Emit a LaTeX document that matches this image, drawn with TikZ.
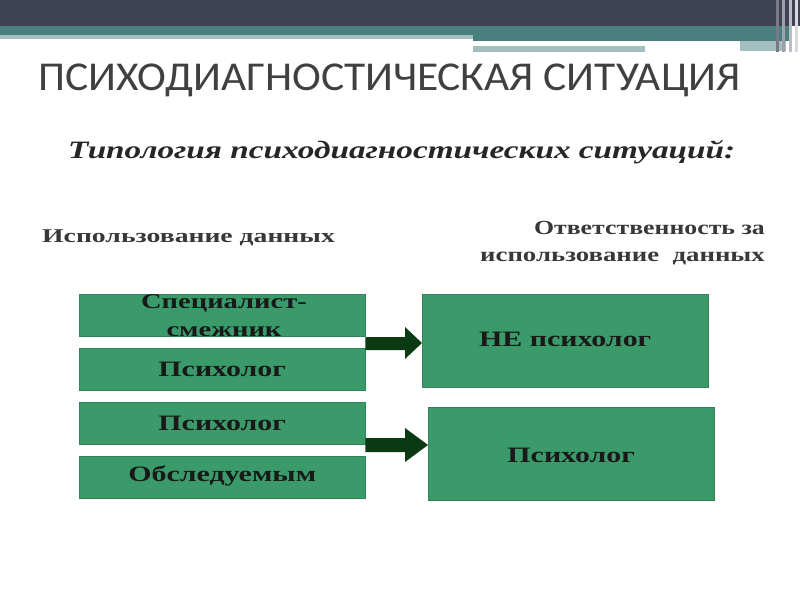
\documentclass[tikz,border=0pt]{standalone}
\usepackage{fontspec}
\setmainfont{Liberation Serif}
\newfontfamily\titlefont{Carlito}
\usetikzlibrary{arrows.meta}
\definecolor{hdark}{HTML}{3F4154}
\definecolor{hteal}{HTML}{4A7F80}
\definecolor{hlight}{HTML}{A4BDBF}
\definecolor{boxgreen}{HTML}{3A9A6A}
\definecolor{arrowgreen}{HTML}{0B3A12}
\definecolor{titlegray}{HTML}{404040}
\newcommand{\widetxt}[1]{\scalebox{1.36}[1]{#1}}
\tikzset{
  gbox/.style={fill=boxgreen, draw=boxgreen!85!black, line width=0.4pt, anchor=north west, inner sep=0pt},
  boxtext/.style={font=\fontsize{22}{24}\selectfont\bfseries, text=black!90, align=center, inner sep=0pt},
  bigarrow/.style={fill=arrowgreen, draw=none},
}
\begin{document}
\begin{tikzpicture}[x=1pt,y=-1pt]
\useasboundingbox (0,0) rectangle (800,600);
\fill[white] (0,0) rectangle (800,600);
% header
\fill[hdark] (0,0) rectangle (800,26);
\fill[hteal] (0,26) rectangle (790,35);
\fill[hlight] (0,35) rectangle (473,39);
\fill[hteal] (473,35) rectangle (790,41);
\fill[hlight] (473,46) rectangle (645,52);
\fill[hlight] (740,41) rectangle (786,51);
\fill[hdark!70] (776,0) rectangle (779,52);
\fill[hdark!50] (782,0) rectangle (785,52);
\fill[hdark!35] (789,0) rectangle (792,52);
\fill[hdark!20] (795,0) rectangle (798,52);
% title
\node[font=\titlefont\fontsize{41}{46}\selectfont, text=titlegray, anchor=west, inner sep=0pt] (title) at (38,80) {\scalebox{1.06}[1]{ПСИХОДИАГНОСТИЧЕСКАЯ СИТУАЦИЯ}};
\node[font=\fontsize{25}{28}\selectfont\bfseries\itshape, text=black!85, anchor=west, inner sep=0pt] (sub) at (68,152) {\scalebox{1.33}[1]{Типология психодиагностических ситуаций:}};
\node[font=\fontsize{19.5}{22}\selectfont\bfseries, text=black!78, anchor=west, inner sep=0pt] (use) at (42,238) {\scalebox{1.42}[1]{Использование данных}};
\node[font=\fontsize{20}{27}\selectfont\bfseries, text=black!78, align=right, anchor=east, inner sep=0pt] (resp) at (765,243) {\scalebox{1.29}[1]{Ответственность за}\\\scalebox{1.34}[1]{использование\ \ данных}};
% boxes
\node[gbox, minimum width=286pt, minimum height=42pt] (l1) at (79,294) {};
\node[gbox, minimum width=286pt, minimum height=42pt] (l2) at (79,348) {};
\node[gbox, minimum width=286pt, minimum height=42pt] (l3) at (79,402) {};
\node[gbox, minimum width=286pt, minimum height=42pt] (l4) at (79,456) {};
\node[gbox, minimum width=286pt, minimum height=93pt] (r1) at (422,294) {};
\node[gbox, minimum width=286pt, minimum height=93pt] (r2) at (428,407) {};
% texts
\node[boxtext, font=\fontsize{21}{28}\selectfont\bfseries] (t1) at (224,316) {\widetxt{Специалист-}\\\widetxt{смежник}};
\node[boxtext] (t2) at (l2.center) {\widetxt{Психолог}};
\node[boxtext] (t3) at (l3.center) {\widetxt{Психолог}};
\node[boxtext] (t4) at ([yshift=1pt]l4.center) {\widetxt{Обследуемым}};
\node[boxtext] (t5) at ([yshift=1pt]r1.center) {\widetxt{НЕ психолог}};
\node[boxtext] (t6) at ([yshift=-2pt]r2.center) {\widetxt{Психолог}};
% arrows
\fill[bigarrow] (l1.east |- 0,337) -- (405,337) -- (405,327) -- (r1.west |- 0,343) -- (405,359) -- (405,350) -- (l1.east |- 0,350) -- cycle;
\fill[bigarrow] (l3.east |- 0,438) -- (405,438) -- (405,428) -- (r2.west |- 0,445) -- (405,462) -- (405,452) -- (l3.east |- 0,452) -- cycle;
\end{tikzpicture}
\end{document}
